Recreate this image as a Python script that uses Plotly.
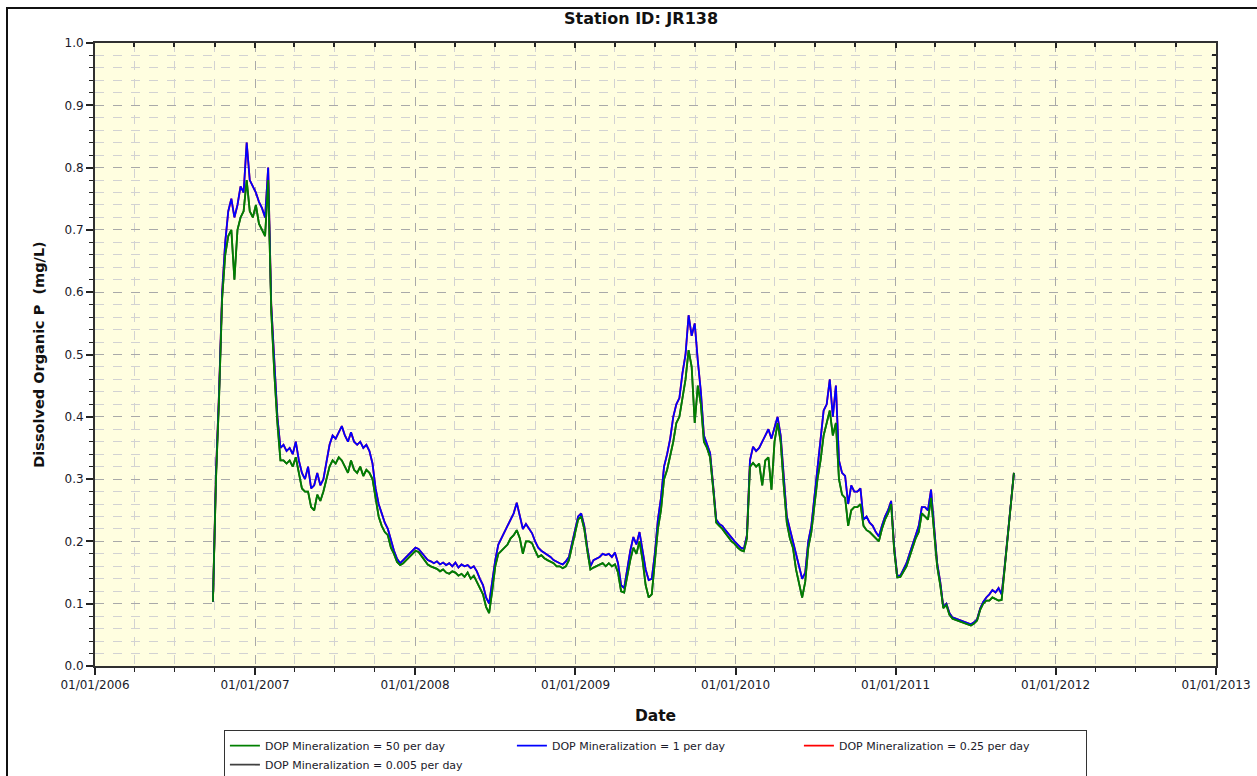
import pandas as pd
import plotly.graph_objects as go

# Weekly samples starting 2006-09-27
start_date = "2006-09-27"

dop_1_per_day = [
    0.103, 0.31, 0.44, 0.60, 0.68, 0.73, 0.75, 0.72, 0.74, 0.77,
    0.76, 0.84, 0.78, 0.77, 0.76, 0.745, 0.735, 0.72, 0.80, 0.58,
    0.48, 0.40, 0.35, 0.355, 0.345, 0.35, 0.34, 0.36, 0.33, 0.31,
    0.30, 0.32, 0.285, 0.29, 0.31, 0.29, 0.30, 0.33, 0.355, 0.37,
    0.365, 0.375, 0.385, 0.37, 0.36, 0.375, 0.36, 0.355, 0.36, 0.35,
    0.355, 0.345, 0.325, 0.285, 0.26, 0.245, 0.23, 0.22, 0.20, 0.185,
    0.172, 0.165, 0.17, 0.175, 0.18, 0.185, 0.19, 0.188, 0.182, 0.175,
    0.17, 0.168, 0.165, 0.168, 0.163, 0.166, 0.162, 0.165, 0.16, 0.166,
    0.158, 0.163, 0.16, 0.162, 0.157, 0.16, 0.152, 0.14, 0.13, 0.11,
    0.10, 0.135, 0.17, 0.195, 0.205, 0.215, 0.225, 0.235, 0.245, 0.262,
    0.24, 0.22, 0.228, 0.22, 0.213, 0.20, 0.19, 0.185, 0.182, 0.178,
    0.175, 0.17, 0.167, 0.165, 0.163, 0.168, 0.175, 0.195, 0.215, 0.24,
    0.245, 0.225, 0.19, 0.16, 0.17, 0.172, 0.175, 0.18, 0.178, 0.18,
    0.175, 0.182, 0.165, 0.13, 0.125, 0.155, 0.185, 0.207, 0.195, 0.215,
    0.185, 0.155, 0.138, 0.14, 0.18, 0.235, 0.27, 0.32, 0.34, 0.365,
    0.40, 0.42, 0.43, 0.47, 0.50, 0.563, 0.53, 0.55, 0.49, 0.44,
    0.37, 0.357, 0.342, 0.29, 0.235, 0.228, 0.225, 0.218, 0.212, 0.205,
    0.20, 0.195, 0.19, 0.188, 0.21, 0.33, 0.352, 0.345, 0.35, 0.36,
    0.37, 0.38, 0.365, 0.385, 0.40, 0.37, 0.30, 0.24, 0.22, 0.20,
    0.175, 0.155, 0.14, 0.15, 0.20, 0.225, 0.27, 0.32, 0.36, 0.41,
    0.42, 0.46, 0.40, 0.45, 0.33, 0.31, 0.305, 0.26, 0.29, 0.28,
    0.28, 0.285, 0.235, 0.24, 0.23, 0.225, 0.215, 0.208, 0.225, 0.24,
    0.25, 0.265, 0.19, 0.145, 0.145, 0.155, 0.165, 0.18, 0.197, 0.21,
    0.225, 0.255, 0.255, 0.25, 0.283, 0.22, 0.165, 0.135, 0.095, 0.10,
    0.085, 0.078, 0.076, 0.074, 0.072, 0.07, 0.068, 0.067, 0.07, 0.075,
    0.092, 0.103, 0.11, 0.115, 0.122, 0.118, 0.125, 0.115, 0.16, 0.21,
    0.26, 0.31,
]

dop_50_per_day = [
    0.103, 0.30, 0.43, 0.59, 0.66, 0.69, 0.70, 0.62, 0.70, 0.72,
    0.73, 0.78, 0.73, 0.72, 0.74, 0.71, 0.70, 0.69, 0.78, 0.57,
    0.47, 0.39, 0.33, 0.33, 0.325, 0.33, 0.32, 0.335, 0.31, 0.285,
    0.28, 0.28, 0.255, 0.25, 0.275, 0.265, 0.28, 0.30, 0.32, 0.33,
    0.325, 0.335, 0.33, 0.32, 0.31, 0.33, 0.315, 0.31, 0.32, 0.305,
    0.315, 0.31, 0.30, 0.27, 0.24, 0.225, 0.215, 0.21, 0.19, 0.18,
    0.167, 0.162, 0.165, 0.17, 0.175, 0.18, 0.185, 0.183, 0.176, 0.17,
    0.163, 0.16, 0.158, 0.156, 0.152, 0.155, 0.15, 0.148, 0.152, 0.15,
    0.145, 0.148, 0.143, 0.15, 0.14, 0.145, 0.135, 0.125, 0.115, 0.095,
    0.085, 0.12, 0.16, 0.18, 0.185, 0.19, 0.195, 0.205, 0.21, 0.218,
    0.205, 0.18, 0.20, 0.20, 0.197, 0.185, 0.175, 0.178, 0.173, 0.17,
    0.167, 0.165, 0.16, 0.16, 0.157, 0.16, 0.17, 0.19, 0.21, 0.235,
    0.24, 0.22, 0.185, 0.155, 0.158, 0.16, 0.163, 0.165, 0.16, 0.165,
    0.16, 0.163, 0.15, 0.12, 0.118, 0.145, 0.17, 0.19, 0.18, 0.20,
    0.17, 0.13, 0.11, 0.115, 0.165, 0.22, 0.25, 0.30, 0.315, 0.335,
    0.36, 0.39, 0.40, 0.43, 0.46, 0.507, 0.48, 0.39, 0.45, 0.42,
    0.36, 0.35, 0.335, 0.285, 0.23, 0.225, 0.22, 0.213, 0.207, 0.20,
    0.196, 0.19, 0.186, 0.184, 0.205, 0.32, 0.326, 0.32, 0.325, 0.29,
    0.33, 0.335, 0.283, 0.36, 0.39, 0.36, 0.29, 0.23, 0.205, 0.19,
    0.155, 0.13, 0.11, 0.135, 0.19, 0.215, 0.26, 0.30, 0.33, 0.37,
    0.39, 0.41, 0.37, 0.39, 0.30, 0.275, 0.27, 0.225, 0.25, 0.255,
    0.255, 0.26, 0.225, 0.218, 0.215, 0.21, 0.205, 0.20, 0.22, 0.235,
    0.245, 0.26, 0.185, 0.142, 0.143, 0.152, 0.16, 0.175, 0.19, 0.205,
    0.215, 0.245, 0.24, 0.235, 0.27, 0.215, 0.16, 0.13, 0.093, 0.098,
    0.082, 0.076, 0.074, 0.072, 0.07, 0.068, 0.066, 0.065, 0.068, 0.073,
    0.09, 0.10, 0.105, 0.105, 0.11, 0.108, 0.105, 0.106, 0.155, 0.205,
    0.255, 0.31,
]

# 0.25 per day overlaps the 1 per day series; 0.005 per day overlaps 50 per day
dop_025_per_day = list(dop_1_per_day)
dop_0005_per_day = list(dop_50_per_day)

dates = pd.date_range(start_date, periods=len(dop_1_per_day), freq="7D")

series_names = [
    "DOP Mineralization = 50 per day",
    "DOP Mineralization = 1 per day",
    "DOP Mineralization = 0.25 per day",
    "DOP Mineralization = 0.005 per day",
]
series_colors = ["#008000", "#0000FF", "#FF0000", "#404040"]

font_family = "DejaVu Sans, sans-serif"
text_color = "#1a1a2a"

fig = go.Figure()
# draw order: black, red, blue, green (green on top)
draw = [
    (3, dop_0005_per_day),
    (2, dop_025_per_day),
    (1, dop_1_per_day),
    (0, dop_50_per_day),
]
for idx, vals in draw:
    fig.add_trace(go.Scatter(
        x=dates, y=vals, mode="lines", name=series_names[idx],
        line=dict(color=series_colors[idx], width=1.8),
        legendrank=idx + 1,
    ))

# invisible trace for mirrored tick axes (top/right)
fig.add_trace(go.Scatter(x=[], y=[], xaxis="x2", yaxis="y2",
                         showlegend=False, hoverinfo="skip"))

grid_major = "#A9A9A9"
grid_minor = "#D2D2D2"

fig.update_layout(
    width=1257, height=776,
    paper_bgcolor="white",
    plot_bgcolor="#FFFEE0",
    margin=dict(l=95, r=41, t=43, b=110, autoexpand=False),
    font=dict(family=font_family, size=12, color=text_color),
    title=dict(text="Station ID: JR138", x=0.51, xanchor="center",
               y=0.976, yanchor="middle",
               font=dict(family="DejaVu Sans", size=16, weight="bold", color="#111")),
    xaxis=dict(
        type="date",
        range=["2006-01-01", "2013-01-01"],
        tick0="2006-01-01", dtick="M12", tickformat="%m/%d/%Y",
        ticks="outside", ticklen=7, tickwidth=1.5, tickcolor="#222",
        showline=True, linecolor="#303030", linewidth=2, mirror=True,
        showgrid=True, gridcolor=grid_major, griddash="dash", gridwidth=1,
        minor=dict(dtick="M3", tick0="2006-01-01", ticks="outside", ticklen=4,
                   tickcolor="#222", tickwidth=1,
                   showgrid=True, gridcolor=grid_minor, griddash="dash", gridwidth=1),
        tickfont=dict(family="DejaVu Sans", size=12, color=text_color),
        title=dict(text="Date", standoff=19,
                   font=dict(family="DejaVu Sans", size=15.5, weight="bold", color="#111")),
        zeroline=False,
    ),
    yaxis=dict(
        range=[0, 1.0], dtick=0.1, tick0=0, tickformat=".1f",
        ticks="outside", ticklen=7, tickwidth=1.5, tickcolor="#222",
        showline=True, linecolor="#303030", linewidth=2, mirror=True,
        showgrid=True, gridcolor=grid_major, griddash="dash", gridwidth=1,
        minor=dict(dtick=0.02, tick0=0, ticks="outside", ticklen=4,
                   tickcolor="#222", tickwidth=1,
                   showgrid=True, gridcolor=grid_minor, griddash="dash", gridwidth=1),
        tickfont=dict(family="DejaVu Sans", size=12, color=text_color),
        title=dict(text="Dissolved Organic P  (mg/L)", standoff=16,
                   font=dict(family="DejaVu Sans", size=14.5, weight="bold", color="#111")),
        zeroline=False,
    ),
    xaxis2=dict(
        type="date", overlaying="x", side="top",
        range=["2006-01-01", "2013-01-01"],
        tick0="2006-01-01", dtick="M12",
        ticks="inside", ticklen=5, tickcolor="#222", tickwidth=1.5,
        minor=dict(dtick="M3", tick0="2006-01-01", ticks="inside", ticklen=4,
                   tickcolor="#222", showgrid=False),
        showticklabels=False, showgrid=False, zeroline=False, showline=False,
    ),
    yaxis2=dict(
        overlaying="y", side="right", range=[0, 1.0], dtick=0.1, tick0=0,
        ticks="inside", ticklen=5, tickcolor="#222", tickwidth=1.5,
        minor=dict(dtick=0.02, tick0=0, ticks="inside", ticklen=4,
                   tickcolor="#222", showgrid=False),
        showticklabels=False, showgrid=False, zeroline=False, showline=False,
    ),
    showlegend=True,
    legend=dict(
        orientation="h",
        x=0.115, xanchor="left",
        y=-0.103, yanchor="top",
        bgcolor="white", bordercolor="#333", borderwidth=1,
        entrywidth=242, entrywidthmode="pixels",
        font=dict(family=font_family, size=11, color=text_color),
        tracegroupgap=0,
    ),
    shapes=[
        dict(type="rect", xref="paper", yref="paper",
             x0=-0.0785, x1=1.2, y0=-0.4, y1=1.0562,
             line=dict(color="#111", width=2), fillcolor="rgba(0,0,0,0)",
             layer="below"),
    ],
)

fig.write_html("out.html", config={"displayModeBar": False},
               post_script="document.body.style.margin='0';")
